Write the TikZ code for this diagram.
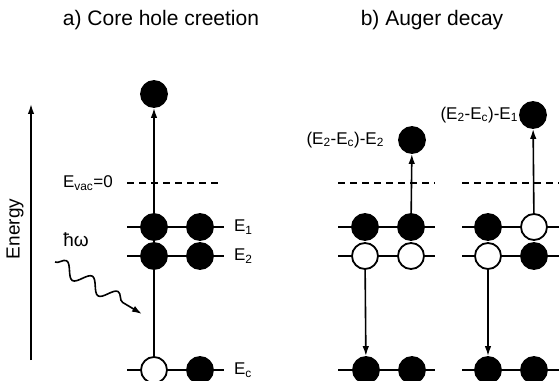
\documentclass[tikz,border=0pt]{standalone}
\usepackage{fontspec}
\setmainfont{Liberation Sans}
\usetikzlibrary{arrows.meta, positioning, decorations.pathmorphing}

\begin{document}
\begin{tikzpicture}[x=1pt, y=1pt,
  elec/.style={circle, draw, line width=1.8pt, fill=black, minimum size=26pt, inner sep=0pt},
  hole/.style={elec, fill=white},
  level/.style={line width=2pt},
  vac/.style={line width=2pt, dash pattern=on 7pt off 5pt},
  jump/.style={line width=1.6pt, -{Latex[length=10pt, width=6.5pt]}},
  lbl/.style={font=\fontsize{17}{20}\selectfont, inner sep=1pt},
  ttl/.style={font=\fontsize{21}{24}\selectfont}
]
  \useasboundingbox (0,0) rectangle (559,380);

  % titles
  \node[ttl] (ta) at (161,360) {a) Core hole creetion};
  \node[ttl] (tb) at (432,360) {b) Auger decay};

  % energy axis
  \coordinate (eb) at (31,20);
  \coordinate (et) at (31,276);
  \draw[jump] (eb) -- (et);
  \node[lbl, rotate=90, font=\fontsize{19}{22}\selectfont] (energy) at (15,151) {Energy};

  % a) core hole creation
  \draw[vac] (127,197) -- (222,197);
  \draw[level] (127,153) -- (224,153);
  \draw[level] (127,124) -- (224,124);
  \draw[level] (127,10) -- (224,10);
  \node[elec] (a1L) at (154,153) {};
  \node[elec] (a1R) at (200,153) {};
  \node[elec] (a2L) at (154,124) {};
  \node[elec] (a2R) at (200,124) {};
  \node[hole] (acL) at (154,10) {};
  \node[elec] (acR) at (200,10) {};
  \node[elec] (aout) at (154,286) {};
  \draw[jump] (acL) -- (aout);
  \node[lbl, anchor=east] (evac) at (114,197) {E\textsubscript{vac}=0};
  \node[lbl, right=19pt of a1R] (e1) {E\textsubscript{1}};
  \node[lbl, right=19pt of a2R] (e2) {E\textsubscript{2}};
  \node[lbl, right=19pt of acR] (ec) {E\textsubscript{c}};
  \node[lbl, font=\fontsize{19}{22}\selectfont] (hw) at (76,140) {ħω};
  \coordinate (ws) at (55,118);
  \coordinate (we) at (142,66);
  \draw[line width=1.6pt, -{Latex[length=10pt, width=6.5pt]},
    decorate, decoration={snake, segment length=30pt, amplitude=7pt, post length=9pt}] (ws) -- (we);

  % b) Auger decay, E2 electron leaves
  \draw[vac] (338,197) -- (435,197);
  \draw[level] (338,153) -- (435,153);
  \draw[level] (338,124) -- (435,124);
  \draw[level] (338,10) -- (435,10);
  \node[elec] (b1L) at (365,153) {};
  \node[elec] (b1R) at (411,153) {};
  \node[hole] (b2L) at (365,124) {};
  \node[hole] (b2R) at (411,124) {};
  \node[elec] (bcL) at (366,10) {};
  \node[elec] (bcR) at (412,10) {};
  \node[elec] (bout) at (412,240) {};
  \draw[jump] (b1R) -- (bout);
  \draw[jump] (b2L) -- (bcL);
  \node[lbl, left=13pt of bout] (bE) {(E\textsubscript{2}-E\textsubscript{c})-E\textsubscript{2}};

  % b) Auger decay, E1 electron leaves
  \draw[vac] (462,197) -- (565,197);
  \draw[level] (462,153) -- (565,153);
  \draw[level] (462,124) -- (565,124);
  \draw[level] (462,10) -- (565,10);
  \node[elec] (c1L) at (488,153) {};
  \node[hole] (c1R) at (534,153) {};
  \node[hole] (c2L) at (488,124) {};
  \node[elec] (c2R) at (534,124) {};
  \node[elec] (ccL) at (488,10) {};
  \node[elec] (ccR) at (534,10) {};
  \node[elec] (cout) at (533,265) {};
  \draw[jump] (c1R) -- (cout);
  \draw[jump] (c2L) -- (ccL);
  \node[lbl, left=0pt of cout] (cE) {(E\textsubscript{2}-E\textsubscript{c})-E\textsubscript{1}};
\end{tikzpicture}
\end{document}
